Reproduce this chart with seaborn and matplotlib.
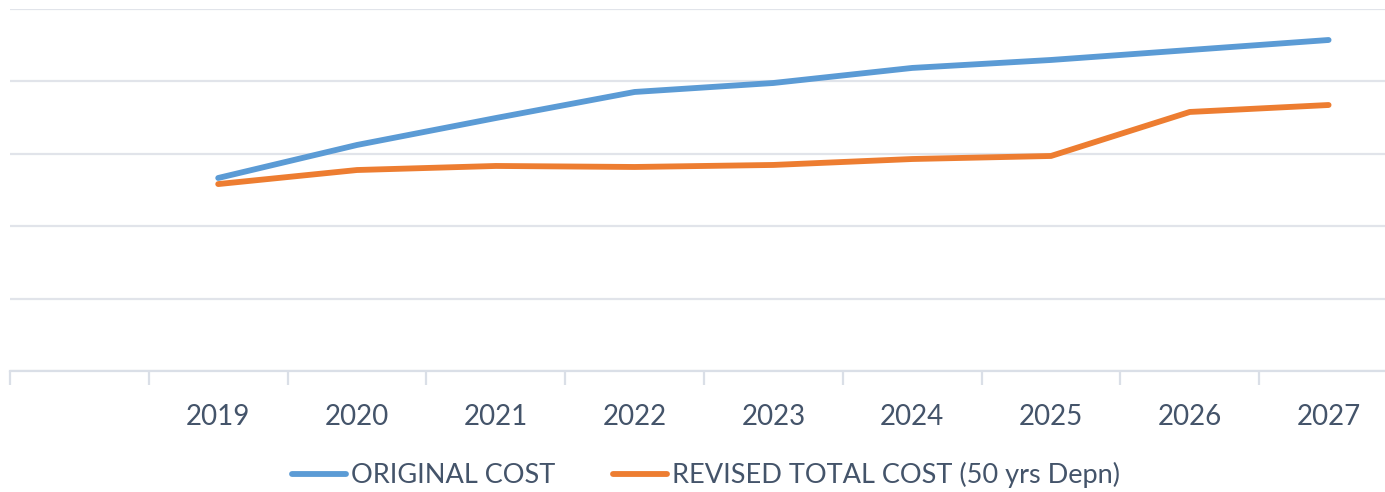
import matplotlib
matplotlib.use("Agg")
import matplotlib.pyplot as plt
import seaborn as sns
import pandas as pd
from matplotlib.lines import Line2D

# Category axis: a leading blank slot followed by the years
categories = ["", "2019", "2020", "2021", "2022", "2023", "2024", "2025", "2026", "2027"]
years = ["2019", "2020", "2021", "2022", "2023", "2024", "2025", "2026", "2027"]
original_cost = [133.3, 156.1, 174.7, 192.7, 198.9, 209.3, 214.8, 221.7, 228.6]
revised_cost = [129.1, 138.8, 141.6, 140.9, 142.3, 146.4, 148.5, 178.9, 183.7]
series_names = ["ORIGINAL COST", "REVISED TOTAL COST (50 yrs Depn)"]
series_colors = ["#5B9BD5", "#ED7D31"]

rows = []
for name, vals in zip(series_names, [original_cost, revised_cost]):
    for yr, v in zip(years, vals):
        rows.append({"pos": categories.index(yr), "value": v, "series": name})
df = pd.DataFrame(rows)

sns.set_theme(style="white")
plt.rcParams["font.family"] = ["Lato", "DejaVu Sans"]

W, H = 1385, 492
fig = plt.figure(figsize=(W / 100, H / 100), dpi=100)
left, right, bottom, top = 10, 1398, 371, 9
ax = fig.add_axes([left / W, (H - bottom) / H, (right - left) / W, (bottom - top) / H])

LW = 4.2
sns.lineplot(data=df, x="pos", y="value", hue="series", hue_order=series_names,
             palette=series_colors, linewidth=LW, ax=ax, legend=False,
             solid_capstyle="round", solid_joinstyle="round")

ax.set_xlim(-0.5, len(categories) - 0.5)
ax.set_ylim(0, 250)
ax.set_yticks([0, 50, 100, 150, 200, 250])
ax.yaxis.grid(True, color="#E1E4EA", linewidth=1.6)
ax.set_axisbelow(True)
ax.tick_params(axis="y", left=False, labelleft=False)

# category boundaries as ticks, labels centred in each slot
ax.set_xticks([i - 0.5 for i in range(len(categories))])
ax.set_xticklabels([])
ax.set_xticks(list(range(len(categories))), minor=True)
ax.set_xticklabels(categories, minor=True, fontsize=20, color="#44546A")
ax.tick_params(axis="x", which="major", bottom=True, length=10, width=1.6, color="#DADFE7")
ax.tick_params(axis="x", which="minor", bottom=False, length=0, pad=24)
ax.set_xlabel("")
ax.set_ylabel("")

for s in ["top", "right", "left"]:
    ax.spines[s].set_visible(False)
ax.spines["bottom"].set_color("#DADFE7")
ax.spines["bottom"].set_linewidth(1.6)

handles = [Line2D([0], [0], color=c, linewidth=LW, solid_capstyle="round") for c in series_colors]
fig.legend(handles, series_names, loc="center", bbox_to_anchor=(706 / W, 1 - 475 / H),
           ncol=2, frameon=False, fontsize=19.5, labelcolor="#44546A",
           handlelength=2.0, handletextpad=0.2, columnspacing=2.1)

fig.savefig("out.png", dpi=100)
